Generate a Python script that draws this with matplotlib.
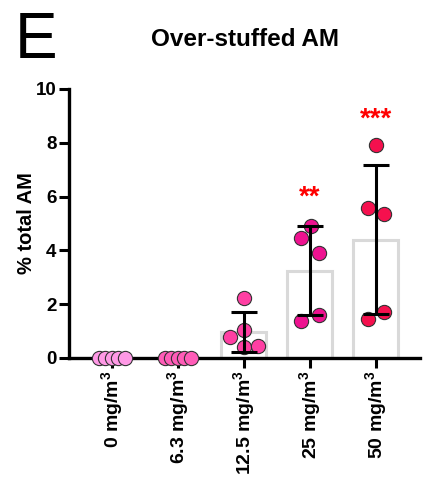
import numpy as np
import matplotlib
matplotlib.use("Agg")
import matplotlib.pyplot as plt

plt.rcParams['font.family'] = ['Liberation Sans', 'DejaVu Sans']
plt.rcParams['mathtext.fontset'] = 'custom'
plt.rcParams['mathtext.rm'] = 'Liberation Sans:bold'
plt.rcParams['mathtext.bf'] = 'Liberation Sans:bold'
plt.rcParams['mathtext.default'] = 'bf'

categories = ["0 mg/m$^3$", "6.3 mg/m$^3$", "12.5 mg/m$^3$", "25 mg/m$^3$", "50 mg/m$^3$"]
g0 = [0, 0, 0, 0, 0]
g63 = [0, 0, 0, 0, 0]
g125 = [2.23, 1.04, 0.78, 0.41, 0.45]
g25 = [4.90, 4.46, 3.90, 1.60, 1.38]
g50 = [7.92, 5.58, 5.35, 1.71, 1.45]
groups = [g0, g63, g125, g25, g50]
significance = ["", "", "", "**", "***"]
star_y = [0, 0, 0, 5.95, 8.85]

colors = ["#FF99E6", "#FF5CB8", "#FF3FA3", "#EE1290", "#F5104E"]
offsets = [
    [-0.2, -0.1, 0.0, 0.1, 0.2],
    [-0.2, -0.1, 0.0, 0.1, 0.2],
    [0.0, 0.0, -0.21, 0.0, 0.21],
    [0.02, -0.13, 0.14, 0.14, -0.13],
    [0.0, -0.12, 0.12, 0.12, -0.12],
]

fig = plt.figure(figsize=(4.26, 4.90), dpi=100)
ax = fig.add_axes([0.162, 0.2694, 0.824, 0.549])

x = np.arange(len(categories))
means = [np.mean(g) for g in groups]
sds = [np.std(g, ddof=1) for g in groups]

ax.bar(x, means, width=0.68, facecolor='white', edgecolor='#d9d9d9', linewidth=2.2, zorder=1)

for i, g in enumerate(groups):
    xs = x[i] + np.array(offsets[i])
    ax.scatter(xs, g, s=105, color=colors[i], edgecolor='#333333', linewidth=0.8, zorder=3, clip_on=False)

for i in range(2, 5):
    ax.errorbar(x[i], means[i], yerr=sds[i], fmt='none', ecolor='black', elinewidth=2.2,
                capsize=9.5, capthick=2.2, zorder=4)
    ax.text(x[i], star_y[i], significance[i], color='#FF0000', ha='center', va='center',
            fontsize=20, fontweight='bold')

ax.set_xlim(-0.65, 4.67)
ax.set_ylim(0, 10)
ax.set_yticks([0, 2, 4, 6, 8, 10])
ax.set_xticks(x)
ax.set_xticklabels(categories, rotation=90, fontsize=14, fontweight='bold')
for lab in ax.get_yticklabels():
    lab.set_fontweight('bold')
    lab.set_fontsize(13.5)
ax.tick_params(axis='both', width=2.2, length=7, color='black', pad=2)

for s in ['top', 'right']:
    ax.spines[s].set_visible(False)
for s in ['left', 'bottom']:
    ax.spines[s].set_linewidth(2.4)

ax.set_ylabel("% total AM", fontsize=14.5, fontweight='bold', labelpad=0)

fig.text(245 / 426, 1 - 40 / 490, "Over-stuffed AM", ha='center', va='center', fontsize=17.5, fontweight='bold')
fig.text(15 / 426, 1 - 41 / 490, "E", ha='left', va='center', fontsize=46, fontweight='medium')

fig.savefig("out.png", dpi=100)
